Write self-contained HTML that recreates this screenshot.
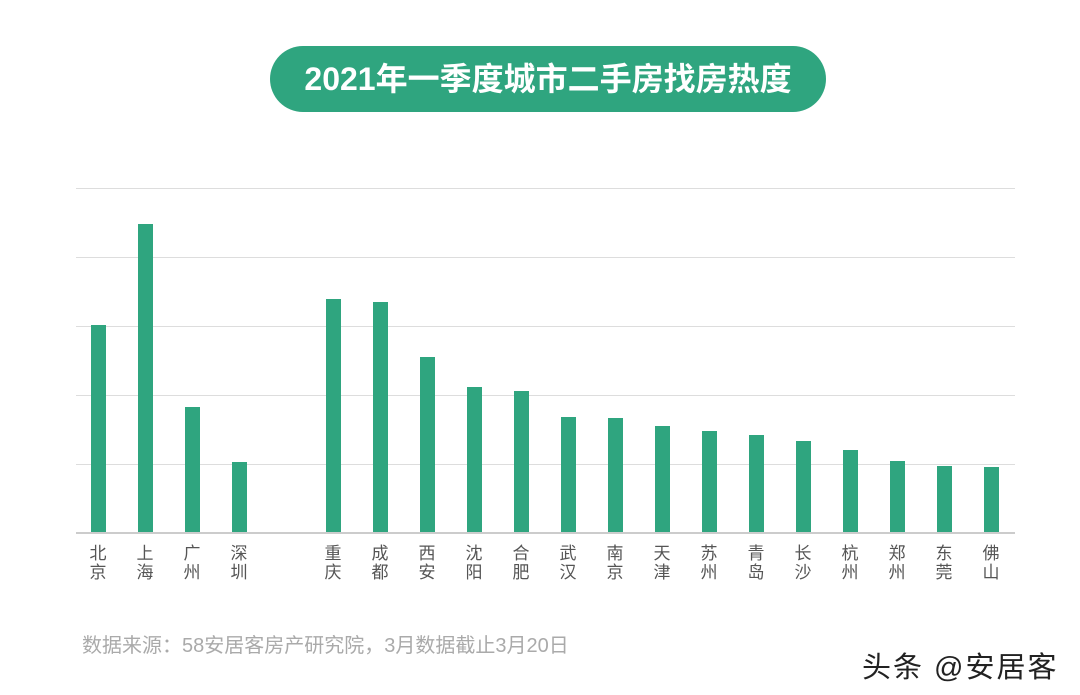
<!DOCTYPE html>
<html><head><meta charset="utf-8"><style>
body{margin:0;width:1080px;height:695px;background:#fff;position:relative;overflow:hidden;font-family:"Liberation Sans","Noto Sans CJK SC",sans-serif}
.pill{position:absolute;left:270px;top:46px;width:556px;height:66px;border-radius:33px;background:#2fa57f;color:#fff;font-size:32px;font-weight:bold;text-align:center;line-height:66px}
.g{position:absolute;left:76px;width:939px;height:1px;background:#ddd}
.b{position:absolute;width:15px;background:#2fa57f}
.l{position:absolute;width:30px;text-align:center;font-size:17px;line-height:19px;color:#555;top:544px}
.src{position:absolute;left:82px;top:629px;font-size:20px;color:#aaa}
.wm{position:absolute;left:862px;top:644px;font-size:29px;color:#222;letter-spacing:2px}
</style></head><body>
<div class="pill">2021年一季度城市二手房找房热度</div>
<div class="g" style="top:188px"></div><div class="g" style="top:257px"></div><div class="g" style="top:326px"></div><div class="g" style="top:395px"></div><div class="g" style="top:464px"></div><div class="g" style="top:532px;background:#ccc;height:2px"></div>
<div id="c"></div>
<div class="src">数据来源：58安居客房产研究院，3月数据截止3月20日</div>
<div class="wm">头条 @安居客</div>
<script>
var xs=[98,145,192,239,333,380,427,474,521,568,615,662,709,756,803,850,897,944,991];
var ts=[325,224,407,462,299,302,357,387,391,417,418,426,431,435,441,450,461,466,467];
var ls=["北京","上海","广州","深圳","重庆","成都","西安","沈阳","合肥","武汉","南京","天津","苏州","青岛","长沙","杭州","郑州","东莞","佛山"];
var h="";for(var i=0;i<xs.length;i++){h+='<div class="b" style="left:'+(xs[i]-7)+'px;top:'+ts[i]+'px;height:'+(532-ts[i])+'px"></div><div class="l" style="left:'+(xs[i]-15)+'px">'+ls[i][0]+'<br>'+ls[i][1]+'</div>';}
document.getElementById("c").innerHTML=h;
</script>
</body></html>
